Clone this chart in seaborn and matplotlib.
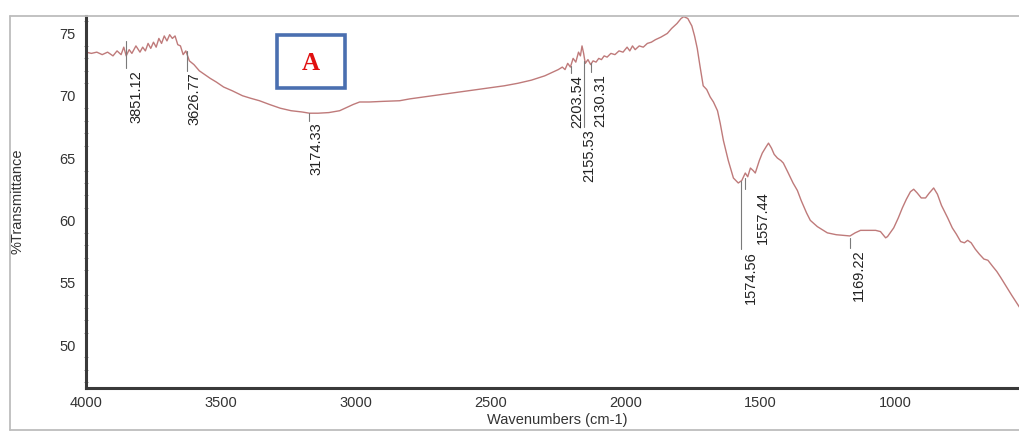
import matplotlib
matplotlib.use("Agg")
import matplotlib.pyplot as plt
from matplotlib.patches import Rectangle
from matplotlib.lines import Line2D
from matplotlib.ticker import MultipleLocator
import seaborn as sns
import pandas as pd

# ---------------- data ----------------
wavenumber = [
    4000, 3980, 3960, 3940, 3920, 3900, 3885, 3870, 3860, 3851, 3840, 3830, 3815, 3800,
    3790, 3780, 3770, 3760, 3750, 3740, 3730, 3720, 3710, 3700, 3690, 3680, 3670, 3660,
    3650, 3640, 3630, 3617, 3600, 3580, 3560, 3540, 3517, 3490, 3458, 3420, 3390, 3357,
    3320, 3280, 3240, 3200, 3172, 3140, 3100, 3060, 3035, 3010, 2986, 2950, 2900, 2838,
    2800, 2750, 2700, 2650, 2600, 2550, 2500, 2450, 2400, 2350, 2300, 2270, 2250, 2235,
    2225, 2215, 2205, 2195, 2185, 2175, 2168, 2162, 2156, 2150, 2140, 2130, 2121, 2110,
    2100, 2090, 2080, 2069, 2055, 2040, 2025, 2010, 1995, 1985, 1975, 1965, 1950, 1935,
    1920, 1905, 1890, 1870, 1846, 1830, 1810, 1795, 1785, 1770, 1755, 1745, 1735, 1725,
    1713, 1700, 1687, 1675, 1660, 1650, 1638, 1620, 1601, 1583, 1570, 1557, 1548, 1538,
    1528, 1520, 1505, 1494, 1480, 1471, 1460, 1450, 1438, 1425, 1416, 1400, 1380, 1364,
    1350, 1330, 1316, 1290, 1253, 1220, 1195, 1169, 1150, 1130, 1104, 1074, 1056, 1037,
    1030, 1020, 1007, 990, 975, 960, 945, 933, 920, 905, 889, 875, 859, 845, 830, 807,
    790, 775, 759, 745, 733, 720, 705, 690, 673, 658, 640, 625, 610, 590, 570, 555, 540,
]
transmittance = [
    73.5, 73.4, 73.5, 73.3, 73.5, 73.2, 73.6, 73.3, 73.9, 73.2, 73.7, 73.4, 74.0, 73.5,
    73.9, 73.6, 74.2, 73.8, 74.3, 73.9, 74.6, 74.2, 74.8, 74.4, 74.9, 74.6, 74.8, 74.1,
    74.0, 73.3, 73.6, 72.8, 72.5, 72.0, 71.7, 71.4, 71.1, 70.7, 70.4, 70.0, 69.8, 69.6,
    69.3, 69.0, 68.8, 68.7, 68.6, 68.6, 68.65, 68.8, 69.05, 69.3, 69.5, 69.5, 69.55, 69.6,
    69.75, 69.9, 70.05, 70.2, 70.35, 70.5, 70.65, 70.8, 71.0, 71.25, 71.6, 71.9, 72.1, 72.3,
    72.1, 72.6, 72.3, 73.0, 72.7, 73.5, 73.2, 74.0, 73.4, 72.6, 72.9, 72.5, 72.8, 72.7,
    73.0, 72.9, 73.2, 73.1, 73.4, 73.3, 73.6, 73.5, 73.9, 73.6, 74.0, 73.7, 74.0, 73.9,
    74.2, 74.3, 74.5, 74.7, 75.0, 75.4, 75.8, 76.2, 76.35, 76.2, 75.6, 74.8, 73.8, 72.4,
    70.8, 70.5, 69.9, 69.5, 68.8, 67.8, 66.4, 64.8, 63.4, 63.0, 63.2, 63.8, 63.5, 64.2,
    64.0, 63.8, 64.8, 65.4, 65.9, 66.2, 65.8, 65.3, 65.0, 64.8, 64.6, 63.9, 63.0, 62.4,
    61.6, 60.6, 60.0, 59.5, 59.0, 58.85, 58.8, 58.75, 59.0, 59.2, 59.2, 59.2, 59.1, 58.6,
    58.7, 59.0, 59.4, 60.2, 61.0, 61.7, 62.3, 62.5, 62.2, 61.8, 61.8, 62.2, 62.6, 62.1,
    61.2, 60.2, 59.4, 58.9, 58.3, 58.2, 58.4, 58.2, 57.7, 57.3, 56.9, 56.8, 56.3, 55.9,
    55.4, 54.7, 54.0, 53.5, 53.0,
]

peak_labels = ["3851.12", "3626.77", "3174.33", "2203.54", "2155.53", "2130.31",
               "1574.56", "1557.44", "1169.22"]
peak_wn = [3851.12, 3626.77, 3174.33, 2203.54, 2155.53, 2130.31, 1574.56, 1557.44, 1169.22]

x_ticks = [4000, 3500, 3000, 2500, 2000, 1500, 1000]
y_ticks = [50, 55, 60, 65, 70, 75]
x_label = "Wavenumbers (cm-1)"
y_label = "%Transmittance"
panel_tag = "A"

# ---------------- layout (label placement, not data) ----------------
# (tick line top, tick line bottom / text top, text x) in data units
label_layout = [
    (74.4, 72.2, 3814),
    (73.6, 72.0, 3599),
    (68.65, 68.0, 3146),
    (72.4, 71.8, 2180),
    (72.8, 67.5, 2136),
    (72.6, 71.9, 2096),
    (63.2, 57.7, 1538),
    (63.4, 62.5, 1490),
    (58.6, 57.8, 1137),
]

# ---------------- plotting ----------------
sns.set_theme(style="white")
plt.rcParams["font.family"] = ["Liberation Sans", "DejaVu Sans"]

W, H = 1019, 433
fig = plt.figure(figsize=(W / 100, H / 100), dpi=100)
ax = fig.add_axes([86 / W, (H - 388) / H, (W - 86) / W + 0.01, (388 - 16) / H])

df = pd.DataFrame({"wn": wavenumber, "T": transmittance})
sns.lineplot(data=df, x="wn", y="T", ax=ax, color="#bf7a7a", linewidth=1.0,
             estimator=None, sort=False)

ax.set_xlim(4000, 505)
ax.set_ylim(46.55, 76.4)
ax.set_xticks(x_ticks)
ax.set_yticks(y_ticks)
ax.yaxis.set_minor_locator(MultipleLocator(1))
ax.xaxis.set_minor_locator(MultipleLocator(100))
ax.tick_params(axis="both", which="major", labelsize=10.5, labelcolor="#333333",
               color="#555555", length=4, width=0.8, direction="out")
ax.tick_params(axis="y", which="minor", length=2.5, width=0.6, color="#777777",
               direction="inout", left=True)
ax.tick_params(axis="x", which="minor", length=2, width=0.6, color="#888888",
               direction="inout", bottom=True)
ax.tick_params(axis="x", which="major", direction="inout", length=4, pad=4)

ax.set_xlabel(x_label, fontsize=10.5, color="#333333", labelpad=2)
ax.set_ylabel("")
fig.text(18 / W, 1 - 201 / H, y_label, rotation=90, ha="center", va="center",
         fontsize=10.5, color="#333333")

for s in ["top", "right"]:
    ax.spines[s].set_visible(False)
for s in ["left", "bottom"]:
    ax.spines[s].set_color("#3a3a3a")
    ax.spines[s].set_linewidth(2.2)

# peak annotations
for lab, wn, (ytop, ybot, tx) in zip(peak_labels, peak_wn, label_layout):
    ax.plot([wn, wn], [ytop, ybot], color="#7a7a7a", linewidth=0.8)
    ax.text(tx, ybot - 0.15, lab, rotation=90, ha="center", va="top",
            fontsize=10.5, color="#222222")

# panel tag box
ax.add_patch(Rectangle((3294, 70.6), -252, 4.25, facecolor="white",
                       edgecolor="#4a6fb0", linewidth=2.6, zorder=5))
ax.text(3168, 72.6, panel_tag, ha="center", va="center", fontsize=18,
        fontweight="bold", color="#e01010", family=["Liberation Serif", "DejaVu Serif"],
        zorder=6)

# outer frame lines
fc = "#bdbdbd"
fig.add_artist(Line2D([10 / W, 10 / W], [1 - 16 / H, 1 - 430 / H], color=fc, linewidth=1.3))
fig.add_artist(Line2D([10 / W, 1.0], [1 - 16 / H, 1 - 16 / H], color=fc, linewidth=1.3))
fig.add_artist(Line2D([10 / W, 1.0], [1 - 430 / H, 1 - 430 / H], color=fc, linewidth=1.3))

fig.savefig("out.png", dpi=100, facecolor="white")
